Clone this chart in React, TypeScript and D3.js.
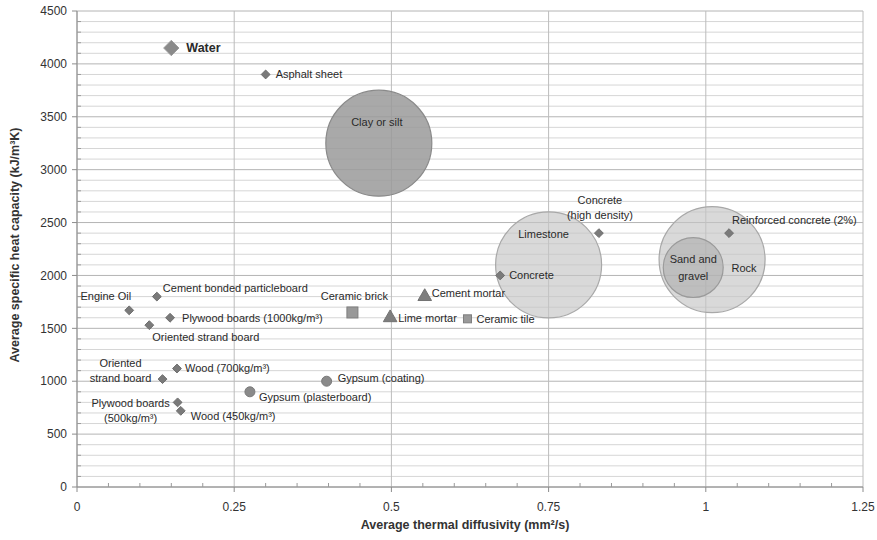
import React from "react";
import * as d3 from "d3";

// Point materials, grouped by marker series
const diamondNames = [
  "Water",
  "Asphalt sheet",
  "Cement bonded particleboard",
  "Engine Oil",
  "Plywood boards (1000kg/m³)",
  "Oriented strand board",
  "Wood (700kg/m³)",
  "Oriented strand board",
  "Plywood boards (500kg/m³)",
  "Wood (450kg/m³)",
  "Concrete",
  "Concrete (high density)",
  "Reinforced concrete (2%)",
];
const diamondDiffusivity = [0.15, 0.3, 0.127, 0.083, 0.148, 0.115, 0.159, 0.136, 0.16, 0.165, 0.673, 0.83, 1.037];
const diamondHeatCapacity = [4150, 3900, 1800, 1670, 1600, 1530, 1120, 1020, 800, 720, 2000, 2400, 2400];

const gypsumNames = ["Gypsum (plasterboard)", "Gypsum (coating)"];
const gypsumDiffusivity = [0.275, 0.397];
const gypsumHeatCapacity = [900, 1000];

const mortarNames = ["Cement mortar", "Lime mortar"];
const mortarDiffusivity = [0.553, 0.498];
const mortarHeatCapacity = [1800, 1600];

const ceramicNames = ["Ceramic brick", "Ceramic tile"];
const ceramicDiffusivity = [0.438, 0.621];
const ceramicHeatCapacity = [1650, 1590];

// Ground materials drawn as bubbles (relative spread)
const bubbleNames = ["Clay or silt", "Limestone", "Rock", "Sand and gravel"];
const bubbleDiffusivity = [0.48, 0.75, 1.01, 0.98];
const bubbleHeatCapacity = [3250, 2100, 2150, 2075];
const bubbleSpread = [1, 1, 1, 0.32];

const xTicks = [0, 0.25, 0.5, 0.75, 1, 1.25];
const xTickLabels = ["0", "0.25", "0.5", "0.75", "1", "1.25"];
const yTicks = [0, 500, 1000, 1500, 2000, 2500, 3000, 3500, 4000, 4500];

const W = 877;
const H = 540;
const M = { left: 77, right: 14, top: 11, bottom: 53 };
const FONT = "'Liberation Sans Narrow', 'Arial Narrow', 'Liberation Sans', Arial, sans-serif";

type LabelSpec = { dx: number; dy: number[]; anchor?: "start" | "middle" | "end"; lines?: string[]; bold?: boolean; size?: number };

const diamondLabels: LabelSpec[] = [
  { dx: 15, dy: [0], bold: true, size: 12.5 },
  { dx: 10, dy: [0] },
  { dx: 6, dy: [-8] },
  { dx: 2, dy: [-14], anchor: "end" },
  { dx: 12, dy: [0] },
  { dx: 3, dy: [12] },
  { dx: 8, dy: [0] },
  { dx: -42, dy: [-16, -1], anchor: "middle", lines: ["Oriented", "strand board"] },
  { dx: -47, dy: [1, 16], anchor: "middle", lines: ["Plywood boards", "(500kg/m³)"] },
  { dx: 10, dy: [5] },
  { dx: 9, dy: [0] },
  { dx: 1, dy: [-33, -18], anchor: "middle", lines: ["Concrete", "(high density)"] },
  { dx: 3, dy: [-13] },
];
const gypsumLabels: LabelSpec[] = [
  { dx: 9, dy: [5] },
  { dx: 11, dy: [-3] },
];
const mortarLabels: LabelSpec[] = [
  { dx: 7, dy: [-3] },
  { dx: 8, dy: [0] },
];
const ceramicLabels: LabelSpec[] = [
  { dx: 2, dy: [-16], anchor: "middle" },
  { dx: 9, dy: [0] },
];
const bubbleLabels: LabelSpec[] = [
  { dx: -2, dy: [-21], anchor: "middle" },
  { dx: -5, dy: [-31], anchor: "middle" },
  { dx: 32, dy: [9], anchor: "middle" },
  { dx: 0, dy: [-8, 9], anchor: "middle", lines: ["Sand and", "gravel"] },
];

const bubbleStyle = [
  { fill: "#9a9a9a", opacity: 0.85, stroke: "#8a8a8a" },
  { fill: "#c4c4c4", opacity: 0.65, stroke: "#a8a8a8" },
  { fill: "#c4c4c4", opacity: 0.65, stroke: "#a8a8a8" },
  { fill: "#acacac", opacity: 0.6, stroke: "#9a9a9a" },
];

function Label({ x, y, text, spec }: { x: number; y: number; text: string; spec: LabelSpec }) {
  const lines = spec.lines ?? [text];
  return (
    <g>
      {lines.map((ln, i) => (
        <text
          key={i}
          x={x + spec.dx}
          y={y + spec.dy[i]}
          dy="0.35em"
          textAnchor={spec.anchor ?? "start"}
          fontFamily={FONT}
          fontSize={spec.size ?? 11}
          fontWeight={spec.bold ? "bold" : "normal"}
          fill="#2a2a2a"
        >
          {ln}
        </text>
      ))}
    </g>
  );
}

export default function App() {
  const x = d3.scaleLinear().domain([0, 1.25]).range([M.left, W - M.right]);
  const y = d3.scaleLinear().domain([0, 4500]).range([H - M.bottom, M.top]);
  const r = d3.scaleSqrt().domain([0, 1]).range([0, 53]);

  const minorY = d3.range(0, 4501, 100).filter((v) => v % 500 !== 0);
  const minorX = d3.range(0, 1.2501, 0.05).map((v) => +v.toFixed(2)).filter((v) => Math.round(v * 100) % 25 !== 0);

  const diamond = d3.symbol().type(d3.symbolDiamond2);
  const triangle = d3.symbol().type(d3.symbolTriangle);

  return (
    <svg width={W} height={H} style={{ position: "absolute", left: 0, top: 0, background: "#fff" }}>
      <rect width={W} height={H} fill="#fff" />
      {/* grid */}
      {minorY.map((v) => (
        <line key={"my" + v} x1={x(0)} x2={x(1.25)} y1={y(v)} y2={y(v)} stroke="#d6d6d6" strokeWidth={1} />
      ))}
      {yTicks.map((v) => (
        <line key={"gy" + v} x1={x(0)} x2={x(1.25)} y1={y(v)} y2={y(v)} stroke="#b4b4b4" strokeWidth={1} />
      ))}
      {xTicks.map((v) => (
        <line key={"gx" + v} x1={x(v)} x2={x(v)} y1={y(0)} y2={y(4500)} stroke="#bcbcbc" strokeWidth={1} />
      ))}
      {/* axes */}
      <line x1={x(0)} x2={x(0)} y1={y(0)} y2={y(4500)} stroke="#8c8c8c" />
      <line x1={x(0)} x2={x(1.25)} y1={y(0)} y2={y(0)} stroke="#8c8c8c" />
      {minorY.map((v) => (
        <line key={"ty" + v} x1={x(0)} x2={x(0) + 4} y1={y(v)} y2={y(v)} stroke="#9a9a9a" />
      ))}
      {yTicks.map((v) => (
        <line key={"tY" + v} x1={x(0) - 5} x2={x(0)} y1={y(v)} y2={y(v)} stroke="#8c8c8c" />
      ))}
      {minorX.map((v) => (
        <line key={"tx" + v} x1={x(v)} x2={x(v)} y1={y(0)} y2={y(0) - 4} stroke="#9a9a9a" />
      ))}
      {xTicks.map((v) => (
        <line key={"tX" + v} x1={x(v)} x2={x(v)} y1={y(0)} y2={y(0) + 5} stroke="#8c8c8c" />
      ))}
      {yTicks.map((v) => (
        <text key={"ly" + v} x={x(0) - 10} y={y(v)} dy="0.35em" textAnchor="end" fontFamily={FONT} fontSize={12} fill="#333">
          {v}
        </text>
      ))}
      {xTicks.map((v, i) => (
        <text key={"lx" + v} x={x(v)} y={y(0) + 20} dy="0.35em" textAnchor="middle" fontFamily={FONT} fontSize={12} fill="#333">
          {xTickLabels[i]}
        </text>
      ))}
      <text x={465} y={525} dy="0.35em" textAnchor="middle" fontFamily={FONT} fontSize={12.5} fontWeight="bold" fill="#333">
        Average thermal diffusivity (mm²/s)
      </text>
      <text
        transform={`translate(15, ${245}) rotate(-90)`}
        dy="0.35em"
        textAnchor="middle"
        fontFamily={FONT}
        fontSize={12.5}
        fontWeight="bold"
        fill="#333"
      >
        Average specific heat capacity (kJ/m³K)
      </text>

      {/* bubbles */}
      {bubbleNames.map((n, i) => (
        <circle
          key={"b" + i}
          cx={x(bubbleDiffusivity[i])}
          cy={y(bubbleHeatCapacity[i])}
          r={r(bubbleSpread[i])}
          fill={bubbleStyle[i].fill}
          fillOpacity={bubbleStyle[i].opacity}
          stroke={bubbleStyle[i].stroke}
          strokeWidth={1.2}
        />
      ))}
      {bubbleNames.map((n, i) => (
        <Label key={"bl" + i} x={x(bubbleDiffusivity[i])} y={y(bubbleHeatCapacity[i])} text={n} spec={bubbleLabels[i]} />
      ))}

      {/* diamonds */}
      {diamondNames.map((n, i) => (
        <path
          key={"d" + i}
          transform={`translate(${x(diamondDiffusivity[i])},${y(diamondHeatCapacity[i])})`}
          d={diamond.size(i === 0 ? 150 : 50)() as string}
          fill={i === 0 ? "#8a8a8a" : "#7a7a7a"}
          stroke={i === 0 ? "#9c9c9c" : "#6e6e6e"}
          strokeWidth={1}
        />
      ))}
      {/* gypsum */}
      {gypsumNames.map((n, i) => (
        <circle key={"g" + i} cx={x(gypsumDiffusivity[i])} cy={y(gypsumHeatCapacity[i])} r={5} fill="#8a8a8a" stroke="#7a7a7a" />
      ))}
      {/* mortars */}
      {mortarNames.map((n, i) => (
        <path
          key={"m" + i}
          transform={`translate(${x(mortarDiffusivity[i])},${y(mortarHeatCapacity[i])})`}
          d={triangle.size(80)() as string}
          fill="#7e7e7e"
          stroke="#727272"
        />
      ))}
      {/* ceramics */}
      {ceramicNames.map((n, i) => {
        const s = i === 0 ? 11 : 8;
        return (
          <rect
            key={"c" + i}
            x={x(ceramicDiffusivity[i]) - s / 2}
            y={y(ceramicHeatCapacity[i]) - s / 2}
            width={s}
            height={s}
            fill="#999"
            stroke="#7e7e7e"
          />
        );
      })}

      {diamondNames.map((n, i) => (
        <Label key={"dl" + i} x={x(diamondDiffusivity[i])} y={y(diamondHeatCapacity[i])} text={n} spec={diamondLabels[i]} />
      ))}
      {gypsumNames.map((n, i) => (
        <Label key={"gl" + i} x={x(gypsumDiffusivity[i])} y={y(gypsumHeatCapacity[i])} text={n} spec={gypsumLabels[i]} />
      ))}
      {mortarNames.map((n, i) => (
        <Label key={"ml" + i} x={x(mortarDiffusivity[i])} y={y(mortarHeatCapacity[i])} text={n} spec={mortarLabels[i]} />
      ))}
      {ceramicNames.map((n, i) => (
        <Label key={"cl" + i} x={x(ceramicDiffusivity[i])} y={y(ceramicHeatCapacity[i])} text={n} spec={ceramicLabels[i]} />
      ))}
    </svg>
  );
}
